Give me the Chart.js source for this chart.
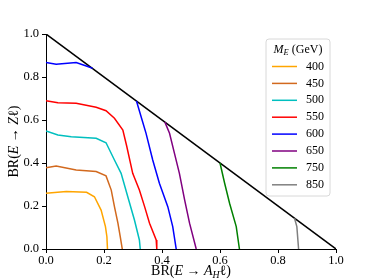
<!DOCTYPE html>
<html>
<head>
<meta charset="utf-8">
<script src="https://cdn.jsdelivr.net/npm/chart.js@4/dist/chart.umd.min.js"></script>
<style>
  html, body { margin: 0; padding: 0; background: #fff; }
  #wrap { width: 374px; height: 280px; }
</style>
</head>
<body>
<div id="wrap"><canvas id="chart" width="374" height="280"></canvas></div>
<script>
// contour lines, x = BR(E -> A_H l), y = BR(E -> Z l)
const masses = ['400', '450', '500', '550', '600', '650', '750', '850'];
const colors = ['#ffa500', '#d2691e', '#00bfbf', '#ff0000', '#0000ff', '#800080', '#008000', '#808080'];

const x400 = [0, 0.07, 0.14, 0.167, 0.19, 0.205, 0.21, 0.212];
const y400 = [0.259, 0.267, 0.264, 0.243, 0.181, 0.104, 0.057, 0];

const x450 = [0, 0.035, 0.104, 0.173, 0.207, 0.225, 0.236, 0.248, 0.256, 0.263];
const y450 = [0.378, 0.386, 0.367, 0.36, 0.34, 0.274, 0.197, 0.12, 0.057, 0];

const x500 = [0, 0.041, 0.087, 0.173, 0.207, 0.236, 0.259, 0.282, 0.305, 0.322, 0.325];
const y500 = [0.549, 0.53, 0.522, 0.515, 0.494, 0.414, 0.352, 0.243, 0.135, 0.042, 0];

const x550 = [0, 0.041, 0.104, 0.173, 0.207, 0.236, 0.265, 0.278, 0.299, 0.322, 0.34, 0.357, 0.38, 0.382];
const y550 = [0.69, 0.68, 0.678, 0.659, 0.643, 0.608, 0.553, 0.48, 0.352, 0.274, 0.197, 0.12, 0.042, 0];

// two pieces, split by a gap
const x600 = [0, 0.035, 0.104, 0.139, 0.161, null, 0.312, 0.328, 0.345, 0.368, 0.391, 0.42, 0.437, 0.449];
const y600 = [0.868, 0.859, 0.867, 0.851, 0.84, null, 0.688, 0.615, 0.538, 0.414, 0.306, 0.197, 0.104, 0];

const x650 = [0.41, 0.426, 0.443, 0.46, 0.478, 0.495, 0.518];
const y650 = [0.59, 0.538, 0.445, 0.352, 0.228, 0.12, 0];

const x750 = [0.6, 0.616, 0.633, 0.656, 0.667];
const y750 = [0.4, 0.306, 0.213, 0.104, 0];

const x850 = [0.857, 0.865, 0.871];
const y850 = [0.143, 0.104, 0];

const diagX = [0, 1];
const diagY = [1, 0];

const xTicks = [0, 0.2, 0.4, 0.6, 0.8, 1.0];
const yTicks = [0, 0.2, 0.4, 0.6, 0.8, 1.0];

const allX = [x400, x450, x500, x550, x600, x650, x750, x850];
const allY = [y400, y450, y500, y550, y600, y650, y750, y850];

const pts = (xs, ys) => xs.map((v, i) => ({ x: v, y: ys[i] }));

const datasets = masses.map((m, i) => ({
    label: m,
    data: pts(allX[i], allY[i]),
    borderColor: colors[i],
    borderWidth: 1.5,
    pointRadius: 0,
    tension: 0,
    spanGaps: false,
    inLegend: true
}));
datasets.push({
    label: 'diag',
    data: pts(diagX, diagY),
    borderColor: '#000',
    borderWidth: 1.5,
    pointRadius: 0,
    inLegend: false
});

const SERIF = '"Liberation Serif", "DejaVu Serif", serif';

// draw a run of text pieces: [text, italic, sub]
function drawRich(ctx, parts, x, y, size, align) {
    const widths = parts.map(p => {
        ctx.font = (p[1] ? 'italic ' : '') + (p[2] ? size * 0.7 : size) + 'px ' + SERIF;
        return ctx.measureText(p[0]).width;
    });
    const total = widths.reduce((a, b) => a + b, 0);
    let cx = align === 'center' ? x - total / 2 : (align === 'right' ? x - total : x);
    ctx.textBaseline = 'middle';
    ctx.textAlign = 'left';
    parts.forEach((p, i) => {
        ctx.font = (p[1] ? 'italic ' : '') + (p[2] ? size * 0.7 : size) + 'px ' + SERIF;
        ctx.fillText(p[0], cx, p[2] ? y + size * 0.25 : y);
        cx += widths[i];
    });
}

const decor = {
    id: 'decor',
    afterDraw(c) {
        const ctx = c.ctx;
        const a = c.chartArea;
        ctx.save();
        ctx.fillStyle = '#000';
        // axis titles
        drawRich(ctx, [['BR(', 0], ['E', 1], [' \u2192 ', 0], ['A', 1], ['H', 1, 1], ['\u2113)', 0]],
            (a.left + a.right) / 2, 271.5, 14, 'center');
        ctx.save();
        ctx.translate(14, (a.top + a.bottom) / 2);
        ctx.rotate(-Math.PI / 2);
        drawRich(ctx, [['BR(', 0], ['E', 1], [' \u2192 ', 0], ['Z', 1], ['\u2113)', 0]], 0, 0, 14, 'center');
        ctx.restore();

        // legend box
        const bx = 266, by = 39, bw = 64, bh = 157;
        ctx.beginPath();
        ctx.roundRect(bx, by, bw, bh, 3);
        ctx.fillStyle = 'rgba(255,255,255,0.85)';
        ctx.fill();
        ctx.strokeStyle = '#d8d8d8';
        ctx.lineWidth = 1;
        ctx.stroke();
        ctx.fillStyle = '#000';
        drawRich(ctx, [['M', 1], ['E', 1, 1], [' (GeV)', 0]], bx + bw / 2, 49.5, 12, 'center');
        let row = 0;
        c.data.datasets.forEach(ds => {
            if (!ds.inLegend) return;
            const yy = 66.5 + row * 16.9;
            ctx.strokeStyle = ds.borderColor;
            ctx.lineWidth = 1.5;
            ctx.beginPath();
            ctx.moveTo(272, yy);
            ctx.lineTo(297, yy);
            ctx.stroke();
            ctx.fillStyle = '#000';
            ctx.font = '12px ' + SERIF;
            ctx.textAlign = 'right';
            ctx.textBaseline = 'middle';
            ctx.fillText(ds.label, 324, yy);
            row++;
        });
        ctx.restore();
    }
};

new Chart(document.querySelector('#chart').getContext('2d'), {
    type: 'line',
    data: { datasets: datasets },
    options: {
        responsive: false,
        animation: false,
        layout: { padding: { left: 0, top: 34, right: 38, bottom: 0 } },
        plugins: { legend: { display: false }, tooltip: { enabled: false } },
        scales: {
            x: {
                type: 'linear', min: 0, max: 1,
                afterFit: s => { s.height = 31; },
                afterBuildTicks: s => { s.ticks = xTicks.map(v => ({ value: v })); },
                grid: { drawOnChartArea: false, drawTicks: true, tickLength: 4, tickColor: '#000' },
                border: { display: true, color: '#000', width: 1 },
                ticks: { color: '#000', font: { family: SERIF, size: 12.5, lineHeight: 1 }, padding: 1,
                         maxRotation: 0, callback: v => v.toFixed(1) }
            },
            y: {
                type: 'linear', min: 0, max: 1,
                afterFit: s => { s.width = 46; },
                afterBuildTicks: s => { s.ticks = yTicks.map(v => ({ value: v })); },
                grid: { drawOnChartArea: false, drawTicks: true, tickLength: 4, tickColor: '#000' },
                border: { display: true, color: '#000', width: 1 },
                ticks: { color: '#000', font: { family: SERIF, size: 12.5 }, padding: 3,
                         callback: v => v.toFixed(1) }
            }
        }
    },
    plugins: [decor]
});
</script>
</body>
</html>
